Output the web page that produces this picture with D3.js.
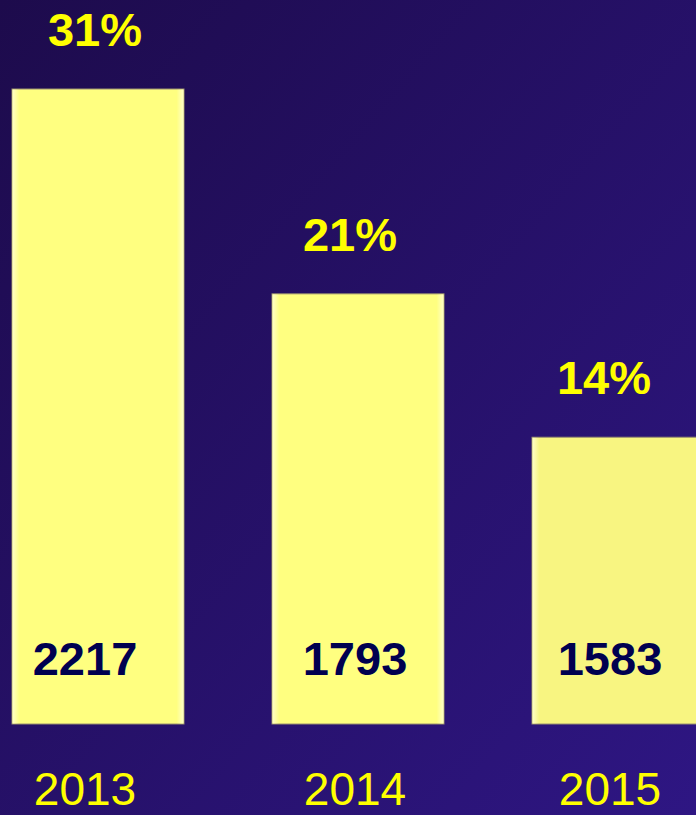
<!DOCTYPE html>
<html>
<head>
<meta charset="utf-8">
<script src="https://cdn.jsdelivr.net/npm/d3@7"></script>
<style>
  html, body { margin: 0; padding: 0; background: #231057; }
  svg { display: block; font-family: Arial, "Liberation Sans", sans-serif; }
</style>
</head>
<body>
<svg width="696" height="815"></svg>
<script>
const years = ['2013', '2014', '2015'];
const shares = [31, 21, 14];
const counts = [2217, 1793, 1583];
const barColors = ['#ffff80', '#ffff80', '#f8f581'];

const data = years.map((y, i) => ({ year: y, share: shares[i], count: counts[i], color: barColors[i] }));

let svg = d3.select('svg'),
    width = +svg.attr('width'),
    height = +svg.attr('height');

const defs = svg.append('defs');

let bg = defs.append('linearGradient')
    .attr('id', 'bg')
    .attr('x1', '0%').attr('y1', '0%')
    .attr('x2', '100%').attr('y2', '100%');
bg.append('stop').attr('offset', '0%').attr('stop-color', '#1d0b4c');
bg.append('stop').attr('offset', '100%').attr('stop-color', '#2e1683');

// soft light edges on the bars
let edge = defs.append('linearGradient')
    .attr('id', 'edge')
    .attr('x1', '0%').attr('x2', '100%');
edge.append('stop').attr('offset', '0%').attr('stop-color', '#ffffd0').attr('stop-opacity', 0.9);
edge.append('stop').attr('offset', '4%').attr('stop-color', '#ffffd0').attr('stop-opacity', 0);
edge.append('stop').attr('offset', '96%').attr('stop-color', '#ffffd0').attr('stop-opacity', 0);
edge.append('stop').attr('offset', '100%').attr('stop-color', '#ffffd0').attr('stop-opacity', 0.9);

svg.append('rect')
    .attr('width', width)
    .attr('height', height)
    .attr('fill', 'url(#bg)');

let x = d3.scaleBand()
    .domain(years)
    .range([12, 704])
    .paddingInner(88 / 260)
    .paddingOuter(0);

let y = d3.scaleLinear()
    .domain([0, 31])
    .range([724, 89]);

let bar = svg.selectAll('g.bar')
    .data(data)
    .enter().append('g')
    .attr('class', 'bar');

bar.append('rect')
    .attr('x', d => x(d.year))
    .attr('y', d => y(d.share))
    .attr('width', x.bandwidth())
    .attr('height', d => y(0) - y(d.share))
    .attr('fill', d => d.color)
    .attr('stroke', '#9a9070')
    .attr('stroke-width', 1);

bar.append('rect')
    .attr('x', d => x(d.year) + 0.5)
    .attr('y', d => y(d.share) + 0.5)
    .attr('width', x.bandwidth() - 1)
    .attr('height', d => y(0) - y(d.share) - 1)
    .attr('fill', 'url(#edge)');

const mid = d => x(d.year) + x.bandwidth() / 2;
const labelShift = [-13, -3, -8];   // labels sit a little left of bar centre
const pctShift = [-3, -8, -14];

// percentage labels above bars
bar.append('text')
    .attr('x', (d, i) => mid(d) + pctShift[i])
    .attr('y', d => y(d.share) - 43)
    .attr('text-anchor', 'middle')
    .attr('font-size', 47)
    .attr('font-weight', 'bold')
    .attr('fill', '#ffff00')
    .text(d => d.share + '%');

// counts inside bars
bar.append('text')
    .attr('x', (d, i) => mid(d) + labelShift[i])
    .attr('y', 675)
    .attr('text-anchor', 'middle')
    .attr('font-size', 47)
    .attr('font-weight', 'bold')
    .attr('fill', '#000050')
    .text(d => d.count);

// year labels
bar.append('text')
    .attr('x', (d, i) => mid(d) + labelShift[i])
    .attr('y', 805)
    .attr('text-anchor', 'middle')
    .attr('font-size', 46)
    .attr('fill', '#ffff00')
    .text(d => d.year);
</script>
</body>
</html>
